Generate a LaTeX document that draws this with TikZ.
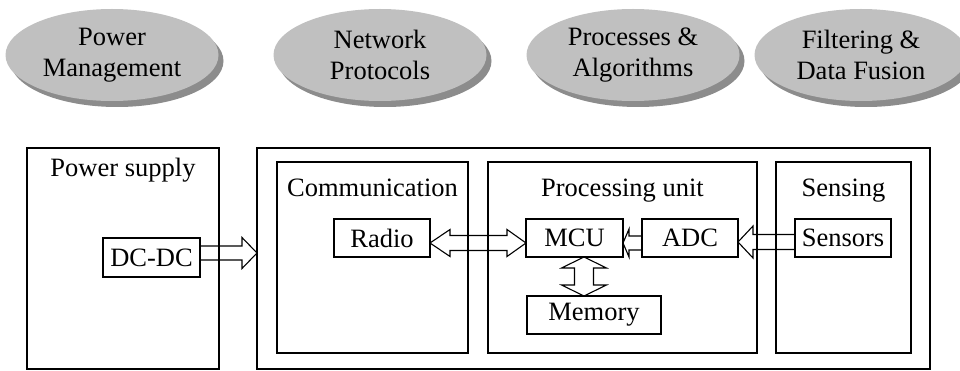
\documentclass[tikz,border=0pt]{standalone}
\usepackage{fontspec}
\setmainfont{Liberation Serif}
\usetikzlibrary{calc,shapes.geometric,shadows}
\definecolor{ellfill}{HTML}{C0C0C0}
\definecolor{ellshadow}{HTML}{8C8C8C}
\begin{document}
\begin{tikzpicture}[x=1pt,y=-1pt,
  every node/.style={font=\fontsize{26.5}{31}\selectfont, inner sep=0pt, outer sep=0pt},
  ell/.style={ellipse, fill=ellfill, minimum width=213pt, minimum height=92pt, align=center,
    drop shadow={shadow xshift=5pt, shadow yshift=-6pt, fill=ellshadow, opacity=1}},
  outerbox/.style={draw, line width=2.2pt, rectangle},
  innerbox/.style={draw, line width=1.1pt, rectangle},
  unitbox/.style={draw, line width=1.1pt, rectangle, minimum width=96pt, minimum height=38pt},
  lbl/.style={anchor=base},
  barrow/.style={draw, line width=1.1pt, line join=miter}]
\clip (0,0) rectangle (960,371);
% top ellipses
\node[ell] (pm) at (112,55) {Power\\Management};
\node[ell] (np) at (380,55) {Network\\Protocols};
\node[ell] (pa) at (633,55) {Processes \&\\Algorithms};
\node[ell] (fd) at (861,55) {Filtering \&\\Data Fusion};
% outer boxes
\node[outerbox, minimum width=192pt, minimum height=221pt] (ps) at (123,258.5) {};
\node[outerbox, minimum width=673pt, minimum height=221pt] (big) at (593.5,258.5) {};
\node[lbl] (pslbl) at (123,177) {Power supply};
% inner containers
\node[innerbox, minimum width=191pt, minimum height=191pt] (comm) at (372.5,257.5) {};
\node[innerbox, minimum width=269pt, minimum height=191pt] (proc) at (622.5,257.5) {};
\node[innerbox, minimum width=135pt, minimum height=191pt] (sens) at (843.5,257.5) {};
\node[lbl] (commlbl) at (372.5,197) {Communication};
\node[lbl] (proclbl) at (622.5,197) {Processing unit};
\node[lbl] (senslbl) at (843.5,197) {Sensing};
% units
\node[unitbox, minimum width=97pt, minimum height=39pt] (dcdc) at (151.5,257.5) {DC-DC};
\node[unitbox] (radio) at (382,238) {Radio};
\node[unitbox, minimum width=97pt] (mcu) at (574.5,238) {MCU};
\node[unitbox] (adc) at (690,238) {ADC};
\node[unitbox] (sensors) at (843,238) {Sensors};
\node[unitbox, minimum width=134pt] (mem) at (594,315) {Memory};
% block arrows
\coordinate (a1s) at (dcdc.east |- 0,253);
\coordinate (a1e) at (big.west |- 0,253);
\draw[barrow] ($(a1s)+(0,-7)$) -- ($(a1e)+(-15,-7)$) -- ($(a1e)+(-15,-15.5)$) -- (a1e)
  -- ($(a1e)+(-15,15.5)$) -- ($(a1e)+(-15,7)$) -- ($(a1s)+(0,7)$);
\coordinate (a2l) at (radio.east |- 0,243);
\coordinate (a2r) at (mcu.west |- 0,243);
\draw[barrow] (a2l) -- ($(a2l)+(20,-13.5)$) -- ($(a2l)+(20,-7.5)$) -- ($(a2r)+(-19,-7.5)$)
  -- ($(a2r)+(-19,-13.5)$) -- (a2r) -- ($(a2r)+(-19,13.5)$) -- ($(a2r)+(-19,7.5)$)
  -- ($(a2l)+(20,7.5)$) -- ($(a2l)+(20,13.5)$) -- cycle;
\coordinate (a3s) at (sensors.west |- 0,242);
\coordinate (a3e) at (adc.east |- 0,242);
\draw[barrow] ($(a3s)+(0,-7.5)$) -- ($(a3e)+(15,-7.5)$) -- ($(a3e)+(15,-16)$) -- (a3e)
  -- ($(a3e)+(15,16)$) -- ($(a3e)+(15,7.5)$) -- ($(a3s)+(0,7.5)$);
\coordinate (a4s) at (adc.west |- 0,243);
\coordinate (a4e) at (mcu.east |- 0,243);
\draw[barrow] ($(a4s)+(0,-7)$) -- ($(a4e)+(6,-7)$) -- ($(a4e)+(6,-14)$) -- (a4e)
  -- ($(a4e)+(6,14)$) -- ($(a4e)+(6,7)$) -- ($(a4s)+(0,7)$);
\coordinate (a5t) at (584,0 |- mcu.south);
\coordinate (a5b) at (584,0 |- mem.north);
\draw[barrow] (a5t) -- ($(a5t)+(22.5,11)$) -- ($(a5t)+(9.5,11)$) -- ($(a5b)+(9.5,-11)$)
  -- ($(a5b)+(22.5,-11)$) -- (a5b) -- ($(a5b)+(-22.5,-11)$) -- ($(a5b)+(-9.5,-11)$)
  -- ($(a5t)+(-9.5,11)$) -- ($(a5t)+(-22.5,11)$) -- cycle;
\end{tikzpicture}
\end{document}
